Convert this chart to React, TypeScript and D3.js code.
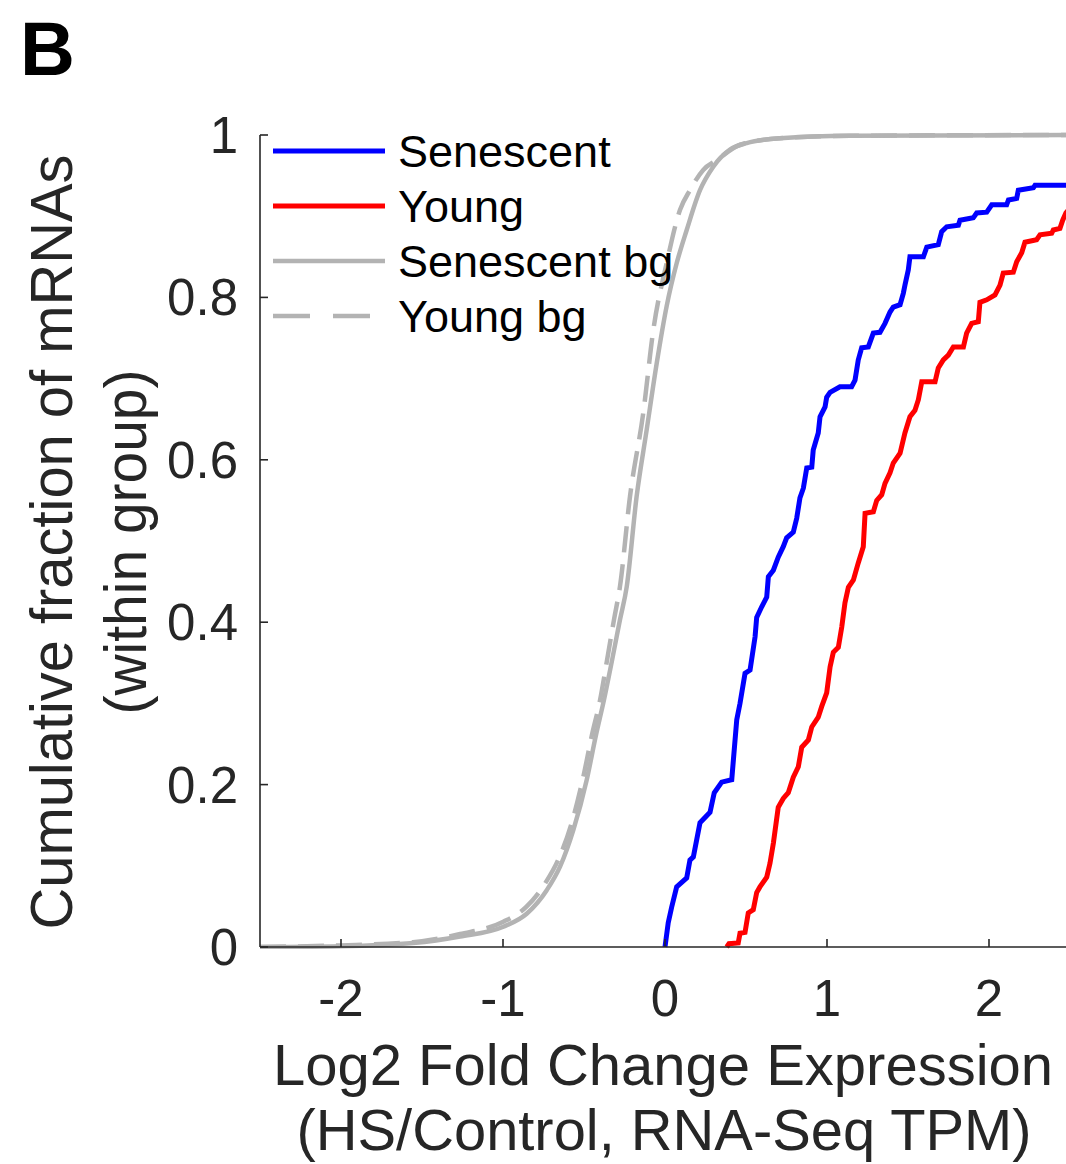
import React from "react";
import * as d3 from "d3";

// ---- Data ----
const xTicks = [-2, -1, 0, 1, 2];
const yTicks = [0, 0.2, 0.4, 0.6, 0.8, 1];
const yTickLabels = ["0", "0.2", "0.4", "0.6", "0.8", "1"];

const senescent: [number, number][] = [
  [0.0, 0.0], [0.02, 0.03], [0.041, 0.049], [0.072, 0.074], [0.134, 0.085], [0.154, 0.107],
  [0.175, 0.111], [0.216, 0.153], [0.278, 0.166], [0.304, 0.19], [0.35, 0.203], [0.412, 0.206],
  [0.422, 0.23], [0.443, 0.28], [0.463, 0.3], [0.494, 0.337], [0.525, 0.341], [0.556, 0.382],
  [0.566, 0.406], [0.597, 0.419], [0.628, 0.431], [0.638, 0.456], [0.669, 0.464], [0.699, 0.48],
  [0.73, 0.493], [0.751, 0.504], [0.792, 0.511], [0.813, 0.528], [0.833, 0.553], [0.854, 0.565],
  [0.875, 0.59], [0.906, 0.591], [0.915, 0.612], [0.946, 0.633], [0.957, 0.653], [0.988, 0.665],
  [0.998, 0.677], [1.019, 0.683], [1.08, 0.69], [1.152, 0.69], [1.173, 0.698], [1.193, 0.723],
  [1.214, 0.738], [1.255, 0.739], [1.286, 0.756], [1.327, 0.757], [1.358, 0.768], [1.389, 0.782],
  [1.409, 0.788], [1.451, 0.791], [1.471, 0.805], [1.481, 0.815], [1.502, 0.834], [1.512, 0.85],
  [1.595, 0.85], [1.616, 0.862], [1.687, 0.865], [1.708, 0.881], [1.739, 0.887], [1.811, 0.889],
  [1.821, 0.895], [1.903, 0.898], [1.924, 0.904], [1.986, 0.905], [2.017, 0.914], [2.109, 0.914],
  [2.12, 0.92], [2.171, 0.922], [2.181, 0.932], [2.274, 0.935], [2.284, 0.938], [2.6, 0.938],
];

const young: [number, number][] = [
  [0.381, 0.0], [0.395, 0.004], [0.452, 0.005], [0.463, 0.017], [0.494, 0.018], [0.514, 0.042],
  [0.545, 0.046], [0.566, 0.067], [0.586, 0.074], [0.628, 0.086], [0.648, 0.103], [0.669, 0.128],
  [0.699, 0.172], [0.73, 0.183], [0.761, 0.19], [0.792, 0.209], [0.823, 0.222], [0.844, 0.246],
  [0.885, 0.255], [0.906, 0.271], [0.946, 0.283], [0.967, 0.296], [0.998, 0.313], [1.019, 0.345],
  [1.039, 0.363], [1.07, 0.369], [1.091, 0.394], [1.111, 0.424], [1.132, 0.443], [1.163, 0.452],
  [1.193, 0.473], [1.224, 0.493], [1.235, 0.534], [1.286, 0.536], [1.307, 0.55], [1.338, 0.557],
  [1.358, 0.571], [1.389, 0.584], [1.409, 0.596], [1.451, 0.608], [1.481, 0.633], [1.512, 0.653],
  [1.543, 0.661], [1.564, 0.674], [1.585, 0.696], [1.667, 0.696], [1.687, 0.713], [1.718, 0.723],
  [1.749, 0.729], [1.78, 0.739], [1.842, 0.739], [1.862, 0.756], [1.893, 0.768], [1.934, 0.77],
  [1.944, 0.794], [1.986, 0.797], [2.037, 0.803], [2.068, 0.815], [2.088, 0.83], [2.15, 0.831],
  [2.171, 0.844], [2.202, 0.855], [2.222, 0.868], [2.294, 0.871], [2.315, 0.877], [2.387, 0.879],
  [2.397, 0.883], [2.438, 0.885], [2.455, 0.895], [2.475, 0.904], [2.51, 0.912],
];

const senescentBg: [number, number][] = [
  [-2.5, 0.0], [-2.006, 0.001], [-1.554, 0.005], [-1.265, 0.013], [-0.998, 0.025], [-0.854, 0.041],
  [-0.73, 0.07], [-0.648, 0.099], [-0.566, 0.144], [-0.483, 0.206], [-0.426, 0.261], [-0.377, 0.304],
  [-0.327, 0.353], [-0.278, 0.403], [-0.236, 0.444], [-0.175, 0.555], [-0.113, 0.637], [-0.051, 0.719],
  [0.01, 0.789], [0.072, 0.842], [0.134, 0.883], [0.216, 0.932], [0.298, 0.961], [0.401, 0.982],
  [0.504, 0.99], [0.71, 0.996], [1.142, 0.999], [2.5, 1.0],
];

const youngBg: [number, number][] = [
  [-2.5, 0.0], [-2.006, 0.002], [-1.556, 0.006], [-1.265, 0.016], [-0.998, 0.031], [-0.858, 0.049],
  [-0.741, 0.078], [-0.66, 0.107], [-0.58, 0.15], [-0.506, 0.208], [-0.451, 0.261], [-0.401, 0.304],
  [-0.358, 0.353], [-0.315, 0.403], [-0.278, 0.444], [-0.216, 0.555], [-0.134, 0.658], [-0.072, 0.76],
  [0.01, 0.842], [0.093, 0.908], [0.154, 0.932], [0.236, 0.957], [0.319, 0.969], [0.463, 0.988],
  [0.71, 0.996], [1.142, 0.999], [2.5, 1.0],
];

const seriesNames = ["Senescent", "Young", "Senescent bg", "Young bg"];
const seriesColors = ["#0000ff", "#ff0000", "#b3b3b3", "#b3b3b3"];
const seriesDash = [null, null, null, "26,12"];

export default function App() {
  const W = 1066, H = 1164;
  const left = 260, right = 1070, top = 135, bottom = 947;
  const x = d3.scaleLinear().domain([-2.5, 2.5]).range([left, right]);
  const y = d3.scaleLinear().domain([0, 1]).range([bottom, top]);
  const stepLine = d3.line<[number, number]>().x(d => x(d[0])).y(d => y(d[1])).curve(d3.curveLinear);
  const smoothLine = d3.line<[number, number]>().x(d => x(d[0])).y(d => y(d[1])).curve(d3.curveMonotoneX);
  const data = [senescent, young, senescentBg, youngBg];
  const font = "'Liberation Sans', Arial, Helvetica, sans-serif";
  const axisColor = "#262626";
  const tickLen = 8;

  return (
    <svg width={W} height={H} style={{ position: "absolute", left: 0, top: 0, background: "#fff" }}>
      <defs>
        <clipPath id="plotclip">
          <rect x={left} y={top - 10} width={right - left} height={bottom - top + 12} />
        </clipPath>
      </defs>
      <text x={20} y={75} fontFamily={font} fontWeight="bold" fontSize={76} fill="#000">B</text>

      {/* curves */}
      <g clipPath="url(#plotclip)">
        {data.map((d, i) => (
          <path key={i} d={(i < 2 ? stepLine(d) : smoothLine(d)) || ""} fill="none" stroke={seriesColors[i]}
            strokeWidth={i < 2 ? 5 : 4.5} strokeDasharray={seriesDash[i] || undefined}
            strokeLinejoin="miter" />
        ))}
      </g>

      {/* axes */}
      <line x1={left} x2={right} y1={bottom} y2={bottom} stroke={axisColor} strokeWidth={1.6} />
      <line x1={left} x2={left} y1={top} y2={bottom} stroke={axisColor} strokeWidth={1.6} />
      {xTicks.map(t => (
        <g key={"x" + t}>
          <line x1={x(t)} x2={x(t)} y1={bottom} y2={bottom - tickLen} stroke={axisColor} strokeWidth={1.6} />
          <text x={x(t)} y={1016} textAnchor="middle" fontFamily={font} fontSize={51} fill={axisColor}>{String(t)}</text>
        </g>
      ))}
      {yTicks.map((t, i) => (
        <g key={"y" + t}>
          <line x1={left} x2={left + tickLen} y1={y(t)} y2={y(t)} stroke={axisColor} strokeWidth={1.6} />
          <text x={238} y={y(t) + 18} textAnchor="end" fontFamily={font} fontSize={51} fill={axisColor}>{yTickLabels[i]}</text>
        </g>
      ))}

      {/* axis labels */}
      <text x={663} y={1085} textAnchor="middle" fontFamily={font} fontSize={57} fill={axisColor}
        textLength={780} lengthAdjust="spacingAndGlyphs">Log2 Fold Change Expression</text>
      <text x={664} y={1150} textAnchor="middle" fontFamily={font} fontSize={57} fill={axisColor}
        textLength={735} lengthAdjust="spacingAndGlyphs">(HS/Control, RNA-Seq TPM)</text>
      <g transform="translate(72,542) rotate(-90)">
        <text x={0} y={0} textAnchor="middle" fontFamily={font} fontSize={60} fill={axisColor}
          textLength={775} lengthAdjust="spacingAndGlyphs">Cumulative fraction of mRNAs</text>
      </g>
      <g transform="translate(146,542) rotate(-90)">
        <text x={0} y={0} textAnchor="middle" fontFamily={font} fontSize={60} fill={axisColor}
          textLength={345} lengthAdjust="spacingAndGlyphs">(within group)</text>
      </g>

      {/* legend */}
      {seriesNames.map((n, i) => {
        const ly = 151 + i * 55;
        return (
          <g key={n}>
            <line x1={273} x2={385} y1={ly} y2={ly} stroke={seriesColors[i]} strokeWidth={i < 2 ? 5 : 4.5}
              strokeDasharray={i === 3 ? "37,23" : undefined} />
            <text x={398} y={ly + 16} fontFamily={font} fontSize={45} fill="#000">{n}</text>
          </g>
        );
      })}
    </svg>
  );
}
